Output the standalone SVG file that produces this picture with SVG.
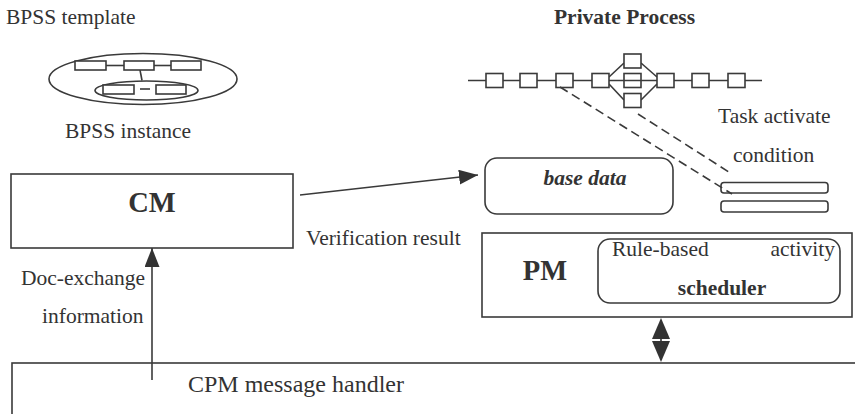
<svg xmlns="http://www.w3.org/2000/svg" width="855" height="414" viewBox="0 0 855 414">
<style>
text{font-family:"Liberation Serif","Times New Roman",serif;fill:#333;font-size:21.5px}
.b{font-weight:bold}
.big{font-size:28.5px}
.cpm{font-size:24px}
.i{font-style:italic}
.s{fill:none;stroke:#3a3a3a;stroke-width:1.6}
.w{fill:#fff;stroke:#3a3a3a;stroke-width:1.6}
.d{fill:none;stroke:#3a3a3a;stroke-width:1.6;stroke-dasharray:9 5}
</style>
<defs>
<marker id="ah" markerWidth="19" markerHeight="15" refX="19" refY="7.5" orient="auto" markerUnits="userSpaceOnUse">
<path d="M0,0 L19,7.5 L0,15 z" fill="#333"/>
</marker>
</defs>
<rect width="855" height="414" fill="#fff"/>

<g id="bpss">
<text x="6" y="24">BPSS template</text>
<ellipse class="s" cx="143" cy="79" rx="94" ry="25.5"/>
<line class="s" x1="106" y1="65.5" x2="124" y2="65.5"/>
<line class="s" x1="154" y1="65.5" x2="171" y2="65.5"/>
<line class="s" x1="140" y1="70" x2="142" y2="80.5"/>
<rect class="w" x="75" y="61" width="31" height="9"/>
<rect class="w" x="124" y="61" width="30" height="9"/>
<rect class="w" x="171" y="61" width="30" height="9"/>
<ellipse class="s" cx="146.5" cy="90.5" rx="51.5" ry="9.5"/>
<line class="s" x1="140" y1="89" x2="150" y2="89"/>
<rect class="w" x="103" y="85" width="31" height="9"/>
<rect class="w" x="156" y="85" width="30" height="9"/>
<text x="65" y="138">BPSS instance</text>
</g>

<g id="private-process">
<text class="b" x="624.5" y="24" text-anchor="middle">Private Process</text>
<line class="s" x1="468" y1="80.5" x2="762" y2="80.5"/>
<line class="s" x1="609" y1="77" x2="624" y2="63"/>
<line class="s" x1="609" y1="84" x2="624" y2="100"/>
<line class="s" x1="641" y1="63" x2="657" y2="77"/>
<line class="s" x1="641" y1="100" x2="657" y2="84"/>
<rect class="w" x="486" y="73.5" width="17" height="14"/>
<rect class="w" x="520" y="73.5" width="17" height="14"/>
<rect class="w" x="556" y="73.5" width="17" height="14"/>
<rect class="w" x="592" y="73.5" width="17" height="14"/>
<rect class="w" x="624" y="54" width="17" height="14"/>
<rect class="s" x="624" y="73.5" width="17" height="14"/>
<rect class="w" x="624" y="93.5" width="17" height="14"/>
<rect class="w" x="657" y="73.5" width="17" height="14"/>
<rect class="w" x="692" y="73.5" width="17" height="14"/>
<rect class="w" x="728" y="73.5" width="17" height="14"/>
</g>

<g id="task-condition">
<text x="718" y="123">Task activate</text>
<text x="733" y="162">condition</text>
<rect class="s" x="721" y="182.5" width="107" height="10.5" rx="3"/>
<rect class="s" x="721" y="201" width="107" height="11" rx="3"/>
</g>

<g id="base-data">
<rect class="s" x="485" y="158" width="188" height="56" rx="12"/>
<text class="b i" x="585" y="185" text-anchor="middle">base data</text>
</g>

<g id="cm">
<rect class="s" x="11" y="174" width="282" height="74"/>
<text class="b big" x="152" y="212" text-anchor="middle">CM</text>
</g>

<g id="pm">
<rect class="s" x="482" y="233" width="370" height="84"/>
<text class="b big" x="545" y="280" text-anchor="middle">PM</text>
<rect class="s" x="598" y="239" width="242" height="64" rx="12"/>
<text x="612" y="256">Rule-based</text>
<text x="835" y="256" text-anchor="end">activity</text>
<text class="b" x="722" y="295" text-anchor="middle">scheduler</text>
</g>

<g id="cpm">
<rect class="s" x="12" y="363" width="900" height="100"/>
<text class="cpm" x="188" y="392">CPM message handler</text>
</g>

<g id="connectors">
<line class="s" x1="300" y1="195" x2="478" y2="175" marker-end="url(#ah)"/>
<line class="s" x1="152" y1="380" x2="152" y2="248" marker-end="url(#ah)"/>
<line class="d" x1="560" y1="87" x2="732" y2="194"/>
<line class="d" x1="638" y1="114" x2="732" y2="174"/>
<polygon points="661,318 652,339 670,339" fill="#333"/>
<polygon points="652,341 670,341 661,362" fill="#333"/>
<line x1="661" y1="338" x2="661" y2="342" stroke="#333" stroke-width="1.6"/>
<text x="306" y="245">Verification result</text>
<text x="21" y="285">Doc-exchange</text>
<text x="42" y="323">information</text>
</g>
</svg>
